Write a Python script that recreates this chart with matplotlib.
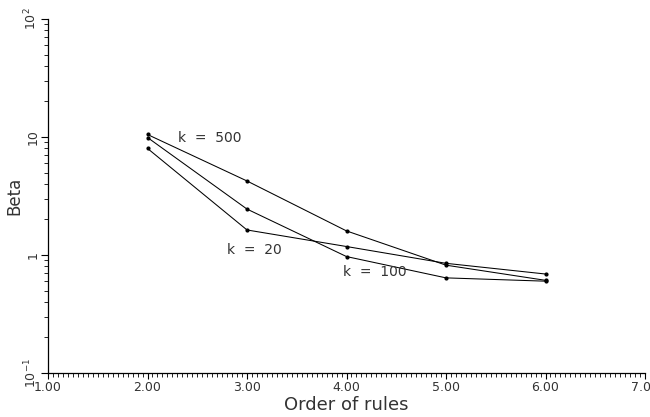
import matplotlib
matplotlib.use("Agg")
import matplotlib.pyplot as plt
from matplotlib.ticker import FixedLocator, MultipleLocator, FixedFormatter, LogLocator, NullFormatter

orders = [2, 3, 4, 5, 6]
beta_k500 = [10.5, 4.24, 1.60, 0.82, 0.61]
beta_k100 = [9.9, 2.45, 0.97, 0.64, 0.60]
beta_k20 = [8.0, 1.63, 1.18, 0.85, 0.69]

x_ticks = [1, 2, 3, 4, 5, 6, 7]
x_tick_labels = ["1.00", "2.00", "3.00", "4.00", "5.00", "6.00", "7.00"]
y_ticks = [0.1, 1, 10, 100]
y_tick_labels = ["$10^{-1}$", "1", "10", "$10^{2}$"]

labels = ["k  =  500", "k  =  100", "k  =  20"]
label_pos = [(2.31, 9.8), (3.96, 0.72), (2.80, 1.10)]

txt = "#333333"
plt.rcParams['font.family'] = ['DejaVu Sans']

fig = plt.figure(figsize=(6.5, 4.17), dpi=100)
ax = fig.add_axes([48/650, 1 - 373/417, (645-48)/650, (373-19)/417])

for ys in (beta_k500, beta_k100, beta_k20):
    ax.plot(orders, ys, color="black", lw=0.75, marker="o", ms=2.0, clip_on=False)

for lab, (lx, ly) in zip(labels, label_pos):
    ax.text(lx, ly, lab, fontsize=10, color=txt, ha="left", va="center")

ax.set_yscale("log")
ax.set_xlim(1, 7)
ax.set_ylim(0.1, 100)

ax.xaxis.set_major_locator(FixedLocator(x_ticks))
ax.xaxis.set_major_formatter(FixedFormatter(x_tick_labels))
ax.xaxis.set_minor_locator(MultipleLocator(0.05))
ax.yaxis.set_major_locator(FixedLocator(y_ticks))
ax.yaxis.set_major_formatter(FixedFormatter(y_tick_labels))
ax.yaxis.set_minor_locator(LogLocator(base=10, subs=range(2, 10)))
ax.yaxis.set_minor_formatter(NullFormatter())

for s in ("top", "right"):
    ax.spines[s].set_visible(False)
for s in ("left", "bottom"):
    ax.spines[s].set_linewidth(0.9)

ax.tick_params(axis="x", which="major", direction="out", length=4, width=0.8,
               labelsize=9, labelcolor=txt, pad=2)
ax.tick_params(axis="x", which="minor", direction="out", length=3, width=0.6)
ax.tick_params(axis="y", which="major", direction="out", length=5, width=0.8,
               labelsize=9, labelcolor=txt, labelrotation=90, pad=1)
ax.tick_params(axis="y", which="minor", direction="out", length=3, width=0.6)
for t in ax.get_yticklabels():
    t.set_va("center")

ax.set_xlabel("Order of rules", fontsize=13, color=txt, labelpad=1)
ax.set_ylabel("Beta", fontsize=12, color=txt, labelpad=0)

fig.savefig("out.png", dpi=100)
